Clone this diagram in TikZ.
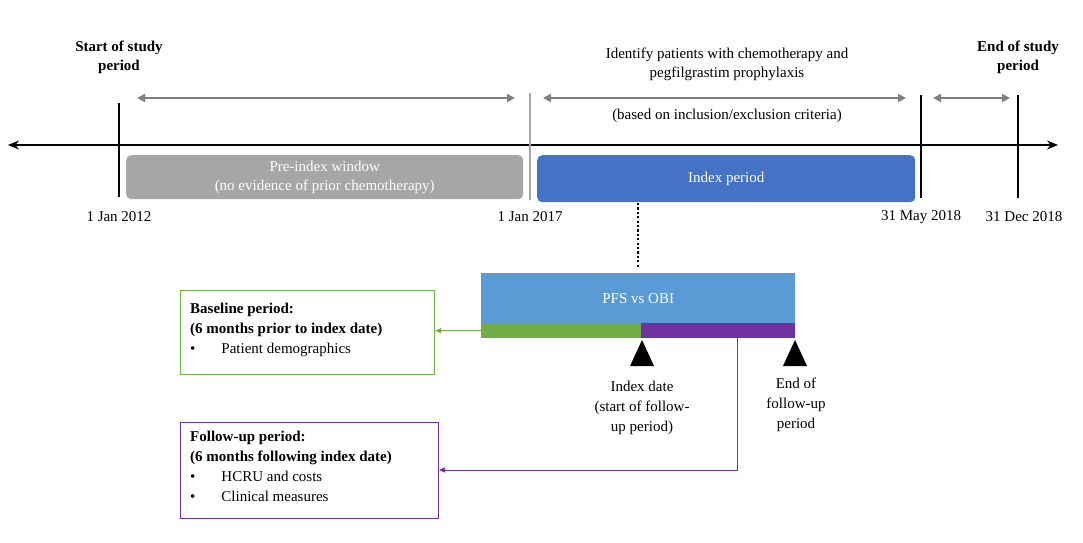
\documentclass[tikz,border=0pt]{standalone}
\usepackage{fontspec}
\setmainfont{Liberation Serif}
\usetikzlibrary{arrows.meta}
\definecolor{gr}{HTML}{A6A6A6}
\definecolor{ar}{HTML}{808080}
\definecolor{ib}{HTML}{4472C4}
\definecolor{pb}{HTML}{5B9BD5}
\definecolor{gn}{HTML}{70AD47}
\definecolor{pu}{HTML}{7030A0}
\begin{document}
\begin{tikzpicture}[x=1pt,y=-1pt,
  txt/.style={font=\fontsize{15}{19}\selectfont,align=center,inner sep=0},
  bld/.style={txt,font=\fontsize{15}{19}\selectfont\bfseries},
  vl/.style={line width=2.2pt},
  ga/.style={ar,line width=2pt,{Triangle[length=8pt,width=8pt]}-{Triangle[length=8pt,width=8pt]}},
  lbox/.style={draw,line width=1pt,inner sep=0,anchor=north west},
  tri/.style={fill=black}]
\useasboundingbox (0,0) rectangle (1083,542);
\coordinate (L) at (8,145); \coordinate (R) at (1058,145);
\draw[line width=1.6pt,{Stealth[length=11pt,width=9pt]}-{Stealth[length=11pt,width=9pt]}] (L) -- (R);
\coordinate (v1t) at (119,103); \coordinate (v1b) at (119,197);
\coordinate (v2t) at (530,93); \coordinate (v2b) at (530,200);
\coordinate (v3t) at (921,95); \coordinate (v3b) at (921,198);
\coordinate (v4t) at (1018,95); \coordinate (v4b) at (1018,198);
\draw[vl] (v1t)--(v1b); \draw[gr,line width=1.5pt] (v2t)--(v2b);
\draw[vl] (v3t)--(v3b); \draw[vl] (v4t)--(v4b);
\coordinate (a1) at (137,98); \coordinate (a2) at (515,98);
\coordinate (a3) at (543,98); \coordinate (a4) at (906,98);
\coordinate (a5) at (933,98); \coordinate (a6) at (1010,98);
\draw[ga] (a1)--(a2); \draw[ga] (a3)--(a4); \draw[ga] (a5)--(a6);
\node[fill=gr,rounded corners=5pt,minimum width=397pt,minimum height=44pt,anchor=north west,txt,text=white] (pre) at (126,155) {Pre-index window\\(no evidence of prior chemotherapy)};
\node[fill=ib,rounded corners=5pt,minimum width=378pt,minimum height=47pt,anchor=north west,txt,text=white] (idx) at (537,155) {Index period};
\node[txt] (d1) at (119,217) {1 Jan 2012};
\node[txt] (d2) at (530,217) {1 Jan 2017};
\node[txt] (d3) at (921,217) {31 May 2018};
\node[txt] (d4) at (1024,217) {31 Dec 2018};
\node[bld] (st) at (119,57) {Start of study\\period};
\node[bld] (en) at (1018,57) {End of study\\period};
\node[txt] (id) at (727,64) {Identify patients with chemotherapy and\\pegfilgrastim prophylaxis};
\node[txt] (bs) at (727,116) {(based on inclusion/exclusion criteria)};
\node[fill=pb,minimum width=314pt,minimum height=50pt,anchor=north west,txt,text=white] (pfs) at (481,273) {PFS vs OBI};
\coordinate (dt) at (638,203); \coordinate (db) at (638,268);
\draw[line width=2.2pt,dash pattern=on 2.2pt off 2.2pt] (dt)--(db);
\node[fill=gn,minimum width=160pt,minimum height=15pt,anchor=north west,inner sep=0] (gb) at (481,323) {};
\node[fill=pu,minimum width=154pt,minimum height=15pt,anchor=north west,inner sep=0] (pb) at (641,323) {};
\fill[tri] (642,340) -- (654,366) -- (630,366) -- cycle;
\fill[tri] (795,340) -- (807,366) -- (783,366) -- cycle;
\node[txt,font=\fontsize{15}{20}\selectfont] (ixd) at (642,408) {Index date\\(start of follow-\\up period)};
\node[txt,font=\fontsize{15}{20}\selectfont] (efp) at (796,405) {End of\\follow-up\\period};
\node[lbox,draw=gn,minimum width=254pt,minimum height=84pt] (base) at (180,290) {};
\node[txt,font=\fontsize{15}{20}\selectfont,align=left,anchor=north west] at (190,303) {\textbf{Baseline period:}\\\textbf{(6 months prior to index date)}\\•\hspace{26pt}Patient demographics};
\node[lbox,draw=pu,minimum width=258pt,minimum height=96pt] (fu) at (180,422) {};
\node[txt,font=\fontsize{15}{20}\selectfont,align=left,anchor=north west] at (190,431) {\textbf{Follow-up period:}\\\textbf{(6 months following index date)}\\•\hspace{26pt}HCRU and costs\\•\hspace{26pt}Clinical measures};
\draw[gn,line width=0.8pt,-{Triangle[length=6pt,width=5pt]}] (gb.west) -- (base.east |- gb.west);
\coordinate (pt) at (737,338); \coordinate (pc) at (737,470);
\draw[pu,line width=0.8pt,-{Triangle[length=6pt,width=5pt]}] (pt) -- (pc) -- (fu.east |- pc);
\end{tikzpicture}
\end{document}
